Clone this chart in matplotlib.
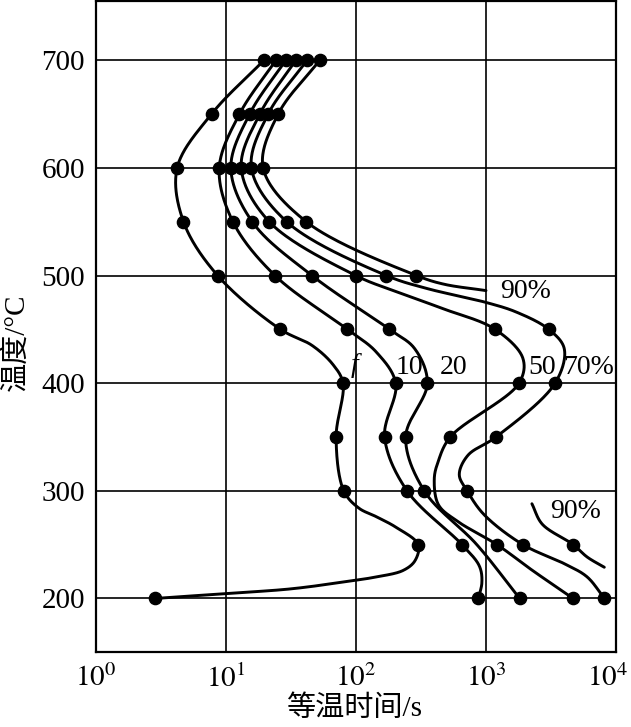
import numpy as np
import matplotlib
matplotlib.use("Agg")
import matplotlib.pyplot as plt
import matplotlib.transforms as mtransforms
from matplotlib.ticker import FixedLocator, NullLocator, FixedFormatter

plt.rcParams['font.family'] = ['Liberation Serif', 'Noto Sans CJK SC']
plt.rcParams['mathtext.fontset'] = 'stix'

f_time = [19.6, 7.74, 4.21, 4.71, 8.62, 26.2, 46, 66.8, 79.4, 70.3, 80.5, 105, 143, 204, 301,
          284, 230, 143, 100, 32, 10, 2.85]
f_temp = [700, 650, 600, 550, 500, 450, 435, 417, 400, 350, 300, 284, 276, 266, 250,
          235, 226, 220, 217, 209, 204.6, 200]
f_dot = [1, 1, 1, 1, 1, 1, 0, 0, 1, 1, 1, 0, 0, 0, 1, 0, 0, 0, 0, 0, 0, 1]

p10_time = [24.2, 12.7, 8.87, 11.3, 23.8, 86, 143, 202, 166, 247, 654, 890, 930, 873]
p10_temp = [700, 650, 600, 550, 500, 450, 429, 400, 350, 300, 250, 230, 215, 200]
p10_dot = [1, 1, 1, 1, 1, 1, 0, 1, 1, 1, 1, 0, 0, 1]

p20_time = [28.8, 15.2, 10.9, 15.9, 45.8, 181, 283, 354, 241, 335, 850, 1815]
p20_temp = [700, 650, 600, 550, 500, 450, 432, 400, 350, 300, 250, 200]
p20_dot = [1, 1, 1, 1, 1, 1, 0, 1, 1, 1, 0, 1]

p50_time = [34.4, 18.2, 13.1, 21.5, 99.5, 193, 472, 1175, 1923, 1795, 531, 428, 400, 431,
            598, 1214, 2280, 4680]
p50_temp = [700, 650, 600, 550, 500, 486, 469, 450, 423, 400, 350, 327, 311, 287,
            272, 250, 226, 200]
p50_dot = [1, 1, 1, 1, 1, 0, 0, 1, 0, 1, 1, 0, 0, 0, 0, 1, 0, 1]

p70_time = [42.0, 21.1, 15.7, 29.3, 171, 350, 1000, 1715, 3040, 4000, 3400, 1194, 726, 623,
            716, 964, 1923, 4050, 6000, 8150]
p70_temp = [700, 650, 600, 550, 500, 488, 475, 466, 450, 432, 400, 350, 333, 315,
            300, 278, 250, 232, 220, 200]
p70_dot = [1, 1, 1, 1, 1, 0, 0, 0, 1, 0, 1, 1, 0, 0, 1, 0, 1, 0, 0, 1]

p90_time = [52.6, 25.2, 19.3, 41.4, 292, 472, 1000]
p90_temp = [700, 650, 600, 550, 500, 492, 486]
p90_dot = [1, 1, 1, 1, 1, 0, 0]

p90b_time = [2255, 2710, 4690, 6000, 8130]
p90b_temp = [288, 269, 250, 238.5, 229]
p90b_dot = [0, 0, 1, 0, 0]

curves = [
    (f_time, f_temp, f_dot),
    (p10_time, p10_temp, p10_dot),
    (p20_time, p20_temp, p20_dot),
    (p50_time, p50_temp, p50_dot),
    (p70_time, p70_temp, p70_dot),
    (p90_time, p90_temp, p90_dot),
    (p90b_time, p90b_temp, p90b_dot),
]

label_text = ['f', '10', '20', '50', '70%', '90%', '90%']
label_time = [98, 259, 563, 2710, 6170, 2030, 4860]
label_temp = [416, 415, 415, 415, 415, 485.5, 281]

x_ticks = [1, 10, 100, 1000, 10000]
x_tick_labels = [r'$10^0$', r'$10^1$', r'$10^2$', r'$10^3$', r'$10^4$']
y_ticks = [200, 300, 400, 500, 600, 700]

VSCALE = 0.0083  # temperature units -> decade-equivalent units for smoothing


def smooth(tt, TT, n=40):
    """Centripetal Catmull-Rom through points in (log10 t, scaled T) space."""
    P = np.column_stack([np.log10(tt), np.asarray(TT, float) * VSCALE])
    P = np.vstack([2 * P[0] - P[1], P, 2 * P[-1] - P[-2]])
    out = []
    for i in range(1, len(P) - 2):
        p0, p1, p2, p3 = P[i - 1], P[i], P[i + 1], P[i + 2]
        t0 = 0.0
        t1 = t0 + max(np.linalg.norm(p1 - p0), 1e-6) ** 0.5
        t2 = t1 + max(np.linalg.norm(p2 - p1), 1e-6) ** 0.5
        t3 = t2 + max(np.linalg.norm(p3 - p2), 1e-6) ** 0.5
        t = np.linspace(t1, t2, n)[:, None]
        A1 = (t1 - t) / (t1 - t0) * p0 + (t - t0) / (t1 - t0) * p1
        A2 = (t2 - t) / (t2 - t1) * p1 + (t - t1) / (t2 - t1) * p2
        A3 = (t3 - t) / (t3 - t2) * p2 + (t - t2) / (t3 - t2) * p3
        B1 = (t2 - t) / (t2 - t0) * A1 + (t - t0) / (t2 - t0) * A2
        B2 = (t3 - t) / (t3 - t1) * A2 + (t - t1) / (t3 - t1) * A3
        C = (t2 - t) / (t2 - t1) * B1 + (t - t1) / (t2 - t1) * B2
        out.append(C if i == 1 else C[1:])
    C = np.vstack(out)
    return 10 ** C[:, 0], C[:, 1] / VSCALE


fig = plt.figure(figsize=(6.31, 7.27), dpi=100)
ax = fig.add_axes([96 / 631, (727 - 652.3) / 727, 520 / 631, 651.3 / 727])
ax.set_xscale('log')
ax.set_xlim(1, 1e4)
ax.set_ylim(150, 755)

for tt, TT, dd in curves:
    xs, ys = smooth(tt, TT)
    ax.plot(xs, ys, color='black', lw=2.1, solid_capstyle='round', zorder=3)
    mt = [a for a, d in zip(tt, dd) if d]
    mT = [b for b, d in zip(TT, dd) if d]
    ax.plot(mt, mT, 'o', color='black', ms=8.8, zorder=4, clip_on=False)

for txt, xt, yt in zip(label_text, label_time, label_temp):
    style = 'italic' if txt == 'f' else 'normal'
    ax.text(xt, yt, txt, fontsize=20, ha='center', va='center', style=style,
            family='Liberation Serif', clip_on=False, zorder=5)

ax.xaxis.set_major_locator(FixedLocator(x_ticks))
ax.xaxis.set_major_formatter(FixedFormatter(x_tick_labels))
ax.xaxis.set_minor_locator(NullLocator())
ax.yaxis.set_major_locator(FixedLocator(y_ticks))
ax.yaxis.set_minor_locator(NullLocator())
ax.grid(True, color='black', lw=1.2, zorder=1)
ax.set_axisbelow(True)
ax.tick_params(axis='both', length=0, labelsize=21)
ax.tick_params(axis='x', pad=9)
ax.tick_params(axis='y', pad=8)
for s in ax.spines.values():
    s.set_linewidth(1.6)
    s.set_color('black')

# keep the last x tick label inside the figure
last_tick = ax.xaxis.get_major_ticks()[-1]
last_tick.label1.set_transform(last_tick.label1.get_transform() +
                               mtransforms.ScaledTranslation(-0.08, 0, fig.dpi_scale_trans))

fig.text(354 / 631, 1 - 709 / 727, '等温时间/s', fontsize=21, ha='center', va='center',
         family=['Liberation Serif', 'Noto Sans CJK SC'])
fig.text(16 / 631, 1 - 342 / 727, '温度/°C', fontsize=21, ha='center', va='center',
         rotation=90, family=['Liberation Serif', 'Noto Sans CJK SC'])

fig.savefig('out.png', dpi=100)
